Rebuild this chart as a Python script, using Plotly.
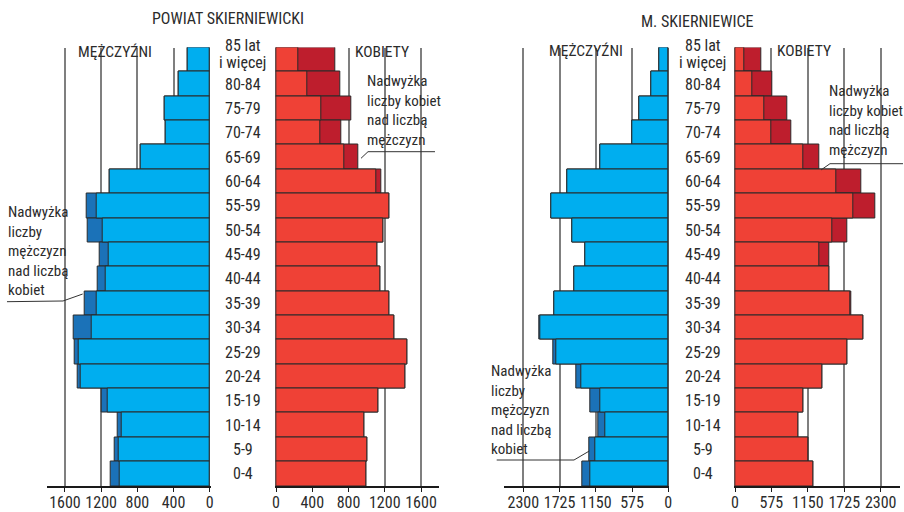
import plotly.graph_objects as go

# ---------------- data ----------------
ages = ["85 lat<br>i więcej", "80-84", "75-79", "70-74", "65-69", "60-64", "55-59",
        "50-54", "45-49", "40-44", "35-39", "30-34", "25-29", "20-24", "15-19",
        "10-14", "5-9", "0-4"]

# Powiat skierniewicki
powiat_men = [245, 340, 498, 487, 758, 1108, 1364, 1346, 1217, 1243, 1386, 1508,
              1497, 1464, 1191, 1021, 1047, 1091]
powiat_women = [650, 714, 828, 725, 908, 1166, 1250, 1184, 1118, 1151, 1247, 1302,
                1449, 1431, 1129, 975, 1011, 1000]

# M. Skierniewice
miasto_men = [140, 275, 465, 576, 1073, 1603, 1860, 1530, 1324, 1491, 1815, 2051,
              1819, 1464, 1232, 1110, 1248, 1364]
miasto_women = [421, 595, 826, 889, 1337, 1995, 2216, 1774, 1489, 1484, 1832, 2032,
                1774, 1379, 1079, 1000, 1153, 1237]

powiat_ticks = [0, 400, 800, 1200, 1600]
miasto_ticks = [0, 575, 1150, 1725, 2300]

titles = ["POWIAT SKIERNIEWICKI", "M. SKIERNIEWICE"]
men_label = "MĘŻCZYŹNI"
women_label = "KOBIETY"
note_men = "Nadwyżka<br>liczby<br>mężczyzn<br>nad liczbą<br>kobiet"
note_women = "Nadwyżka<br>liczby kobiet<br>nad liczbą<br>mężczyzn"

# ---------------- style ----------------
LIGHT_BLUE = "#00AEEF"
DARK_BLUE = "#1B72B8"
LIGHT_RED = "#EF4136"
DARK_RED = "#BE1E2D"
OUTLINE = "#2a2a2a"
TEXT = "#2b2b2b"
FONT = "Liberation Sans Narrow, Roboto Condensed, Arial Narrow, sans-serif"
W, H = 904, 512


def px(x):
    return x / W


def py(y):
    return 1 - y / H


fig = go.Figure()


def add_side(xaxis, total, other, light, dark):
    inner = [min(a, b) for a, b in zip(total, other)]
    fig.add_trace(go.Bar(y=ages, x=total, orientation="h", xaxis=xaxis, yaxis="y",
                         marker=dict(color=dark, line=dict(color=OUTLINE, width=1)),
                         showlegend=False, hoverinfo="x+y"))
    fig.add_trace(go.Bar(y=ages, x=inner, orientation="h", xaxis=xaxis, yaxis="y",
                         marker=dict(color=light, line=dict(color=OUTLINE, width=1)),
                         showlegend=False, hoverinfo="skip"))


add_side("x", powiat_men, powiat_women, LIGHT_BLUE, DARK_BLUE)
add_side("x2", powiat_women, powiat_men, LIGHT_RED, DARK_RED)
add_side("x3", miasto_men, miasto_women, LIGHT_BLUE, DARK_BLUE)
add_side("x4", miasto_women, miasto_men, LIGHT_RED, DARK_RED)


def xax(domain, rng, ticks):
    return dict(domain=domain, range=rng, anchor="y", tickvals=ticks,
                ticktext=[str(t) for t in ticks], showgrid=True,
                gridcolor="rgba(0,0,0,0.5)", gridwidth=1.5, zeroline=False,
                showline=True, linecolor="#1a1a1a", linewidth=1.5,
                ticks="outside", ticklen=4, tickcolor="#1a1a1a",
                ticklabelstandoff=-3,
                tickfont=dict(family=FONT, size=16, color=TEXT),
                layer="above traces", fixedrange=True)


fig.update_layout(
    width=W, height=H,
    margin=dict(l=0, r=0, t=0, b=0, autoexpand=False),
    paper_bgcolor="white", plot_bgcolor="white",
    barmode="overlay", bargap=0,
    font=dict(family=FONT, color=TEXT),
    xaxis=xax([px(46.7), px(210.7)], [1802, -11], powiat_ticks),
    xaxis2=xax([px(275.3), px(439.3)], [-8, 1802], powiat_ticks),
    xaxis3=xax([px(504.3), px(669.3)], [2601, -16], miasto_ticks),
    xaxis4=xax([px(734.3), px(900)], [-11, 2605], miasto_ticks),
    yaxis=dict(domain=[py(486), py(47.5)], type="category",
               categoryorder="array", categoryarray=ages,
               range=[17.5, -0.5], visible=False, fixedrange=True),
)

annotations = []
# age labels (multi-line labels split so the line spacing stays tight)
for cx in (242.5, 702.5):
    for a in ages:
        lines = a.split("<br>")
        n = len(lines)
        for i, ln in enumerate(lines):
            shift = (n - 1) * 8.5 - i * 17 + (6 if n > 1 else 0)
            annotations.append(dict(x=px(cx), xref="paper", y=a, yref="y", text=ln,
                                    showarrow=False, xanchor="center", yanchor="middle",
                                    yshift=shift,
                                    font=dict(family=FONT, size=16, color=TEXT)))
# titles
for (tx, ty), t in zip([(227.5, 18), (697, 21)], titles):
    annotations.append(dict(x=px(tx), y=py(ty), xref="paper", yref="paper", text=t,
                            showarrow=False, xanchor="center", yanchor="middle",
                            font=dict(family=FONT, size=16, color=TEXT)))
for (tx, ty), t in zip([(115, 52), (382, 52), (585.5, 51), (804, 51)],
                       [men_label, women_label, men_label, women_label]):
    annotations.append(dict(x=px(tx), y=py(ty), xref="paper", yref="paper", text=t,
                            showarrow=False, xanchor="center", yanchor="middle",
                            font=dict(family=FONT, size=15.5, color=TEXT)))
# notes
for (tx, ty), t in zip([(6, 201), (365, 70), (827, 80), (489, 360)],
                       [note_men, note_women, note_women, note_men]):
    annotations.append(dict(x=px(tx), y=py(ty), xref="paper", yref="paper", text=t,
                            showarrow=False, xanchor="left", yanchor="top", align="left",
                            font=dict(family=FONT, size=15, color=TEXT)))
fig.update_layout(annotations=annotations)

# leader lines
leaders = [
    [(7, 301.7), (63, 301), (82.7, 294)],
    [(435, 151.7), (368, 151.7), (361, 158.3)],
    [(903, 163.7), (830, 163.7), (821, 170)],
    [(496.7, 460), (574, 460), (589.3, 451)],
]
for pts in leaders:
    path = "M " + " L ".join(f"{px(x):.5f},{py(y):.5f}" for x, y in pts)
    fig.add_shape(type="path", path=path, xref="paper", yref="paper",
                  line=dict(color="#333333", width=1))

fig.write_html("out.html", config={"displayModeBar": False},
               post_script="document.body.style.margin='0';document.body.style.padding='0';")
